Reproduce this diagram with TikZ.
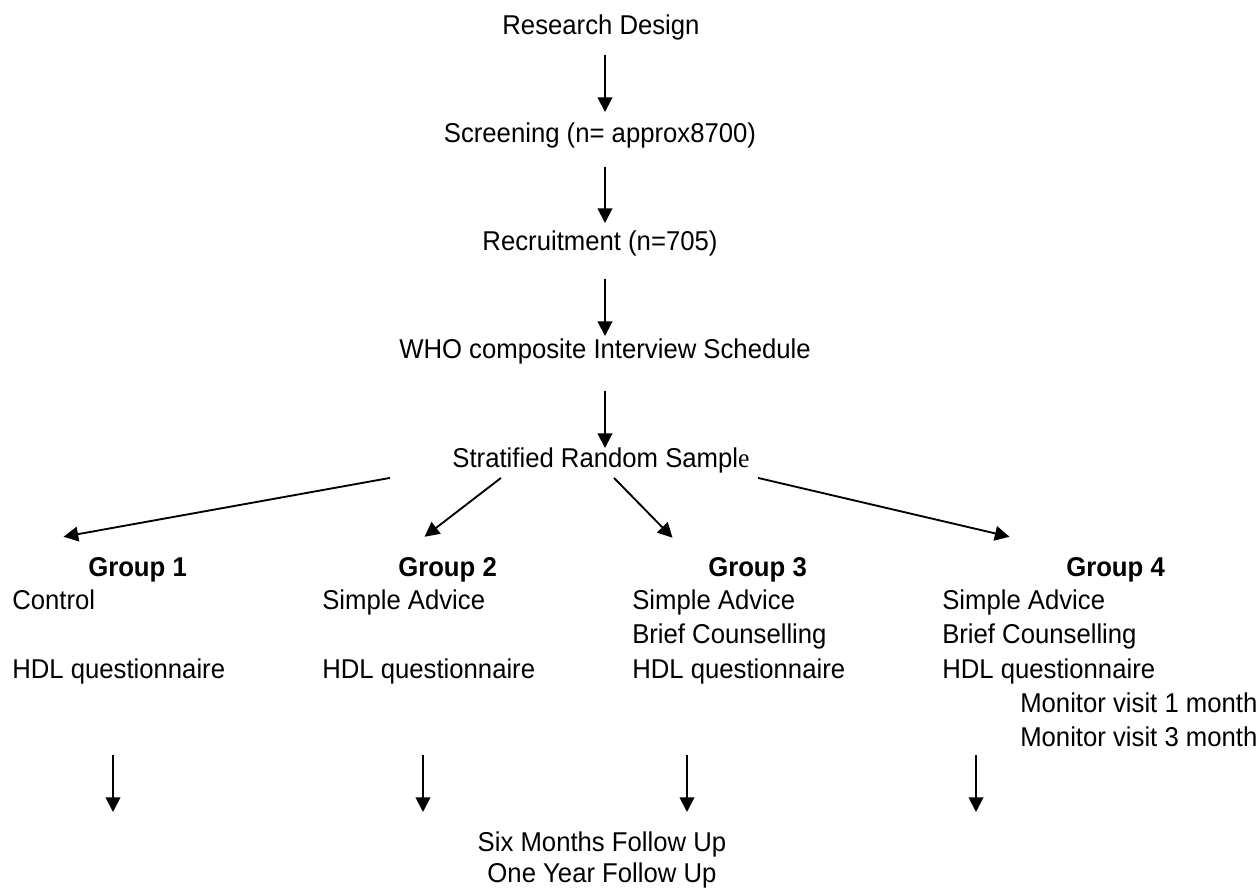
\documentclass[tikz,border=0pt]{standalone}
\usepackage{fontspec}
\setmainfont{Liberation Sans}[FakeStretch=0.945]
\newfontfamily\serifface{Liberation Serif}[FakeStretch=0.945]
\usetikzlibrary{arrows.meta,calc}
\newcommand\fnt{\fontsize{20.4}{23.25}\selectfont}
\tikzset{
  txt/.style={font=\fnt,inner sep=0pt,anchor=base},
  line/.style={font=\fnt,inner sep=0pt,anchor=base west},
  head/.style={line,font=\fnt\bfseries},
  arr/.style={-{Triangle[length=11pt,width=11pt]},line width=1.4pt}
}

\begin{document}
\begin{tikzpicture}[x=0.75pt,y=-0.75pt]
\useasboundingbox (0,0) rectangle (1258,890);
% main chain
\node[txt] (design) at (601,34) {Research Design};
\node[txt] (screen) at (600,142) {Screening (n= approx8700)};
\node[txt] (recruit) at (600,250) {Recruitment (n=705)};
\node[txt] (who) at (605,358) {WHO composite Interview Schedule};
\node[txt] (sample) at (601,467) {Stratified Random Sampl{\serifface e}};
\coordinate (ax) at (605,0);
\foreach \a/\b/\s/\e in {design/screen/15/-10, screen/recruit/19/-7, recruit/who/23/-2, who/sample/27/1}
  \draw[arr] ($(\a.south -| ax)+(0,\s)$) -- ($(\b.north -| ax)+(0,\e)$);

% groups
\foreach \n/\x in {1/88, 2/398, 3/708, 4/1066}
  \node[head] (g\n) at (\x,576) {Group \n};
\foreach \n/\x/\y/\t in {
  c1a/12/609/Control, c1c/12/678/HDL questionnaire,
  c2a/322/609/Simple Advice, c2c/322/678/HDL questionnaire,
  c3a/632/609/Simple Advice, c3b/632/643.5/Brief Counselling, c3c/632/678/HDL questionnaire,
  c4a/942/609/Simple Advice, c4b/942/643.5/Brief Counselling, c4c/942/678/HDL questionnaire,
  c4d/1020/712/Monitor visit 1 month, c4e/1020/746/Monitor visit 3 month}
  \node[line] (\n) at (\x,\y) {\t};

% split
\foreach \n/\sx/\tx/\ty in {1/-211/-74/-20, 2/-100/-23/-20, 3/13/-85/-19, 4/157/-106/-20}
  \draw[arr] ($(sample.south)+(\sx,5)$) -- ($(g\n.north)+(\tx,\ty)$);

% follow up
\node[font=\fnt,inner sep=0pt,align=center,anchor=north] (follow) at (602,832) {Six Months Follow Up\\One Year Follow Up};
\foreach \i/\ax in {1/113, 2/423, 3/687, 4/976}{
  \coordinate (d\i) at (\ax,755);
  \draw[arr,shorten >=15pt] (d\i) -- (d\i |- follow.north);
}
\end{tikzpicture}
\end{document}
